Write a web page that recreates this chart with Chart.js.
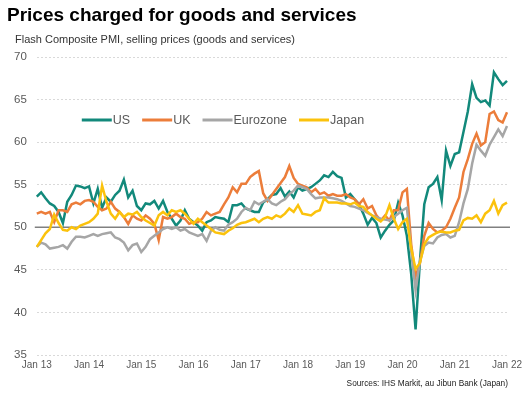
<!DOCTYPE html>
<html><head><meta charset="utf-8">
<script src="https://cdn.jsdelivr.net/npm/chart.js@4/dist/chart.umd.min.js"></script>
<style>html,body{margin:0;padding:0;background:#fff;}#wrap{width:528px;height:399px;position:relative;}</style>
</head><body><div id="wrap"><canvas id="c" width="528" height="399"></canvas></div>
<script>
const titleText = 'Prices charged for goods and services';
const subtitleText = 'Flash Composite PMI, selling prices (goods and services)';
const sourceText = 'Sources: IHS Markit, au Jibun Bank (Japan)';
const monthNames = ['Jan','Feb','Mar','Apr','May','Jun','Jul','Aug','Sep','Oct','Nov','Dec'];
const tickLabels = ['Jan 13','Jan 14','Jan 15','Jan 16','Jan 17','Jan 18','Jan 19','Jan 20','Jan 21','Jan 22'];
const seriesNames = ['US','UK','Eurozone','Japan'];
const seriesColors = ['#12897b','#ec7d3a','#a6a6a6','#fbc20c'];

// monthly categories Jan 13 .. Jan 22
const categories = [];
for (let y = 13; y <= 22; y++) for (let m = 0; m < 12; m++) { if (y === 22 && m > 0) break; categories.push(monthNames[m] + ' ' + y); }

const us = [
 53.6,54.1,53.4,52.8,52.5,51.8,50.5,53.0,53.8,54.9,54.8,54.6,
 54.8,52.8,54.5,52.3,53.5,53.0,53.8,54.3,55.6,53.5,54.3,52.5,
 52.0,52.8,52.7,53.1,52.2,53.1,51.8,51.0,50.2,50.8,52.0,51.0,
 50.6,50.2,49.6,50.6,50.8,51.2,51.1,51.0,50.6,52.6,52.6,52.8,
 52.2,52.0,51.8,51.8,52.9,53.3,53.8,53.9,54.6,53.6,54.2,53.5,
 54.7,54.3,54.5,54.7,55.1,55.5,56.1,55.9,56.5,56.0,55.8,53.5,
 53.9,53.3,52.7,51.6,50.3,51.1,50.5,48.8,49.6,50.3,50.8,52.9,
 51.4,49.0,44.5,38.0,46.0,52.7,54.7,55.1,55.9,53.2,59.0,57.2,
 58.6,58.8,61.2,63.6,66.8,65.2,64.7,64.9,64.3,68.2,67.4,66.7,
 67.2];
const uk = [
 51.6,51.8,51.6,51.8,50.6,52.0,52.0,51.8,52.7,52.9,52.7,53.1,
 53.2,53.0,52.4,52.0,52.2,53.0,52.2,51.8,51.2,50.4,51.4,51.0,
 50.8,51.4,51.0,50.4,48.5,51.2,51.0,51.2,51.6,51.2,51.0,50.4,
 50.6,50.6,51.0,51.8,51.4,51.6,51.8,52.7,53.5,54.7,54.1,55.1,
 55.1,55.9,56.3,56.6,54.0,53.1,53.8,54.5,55.2,55.9,57.2,55.8,
 55.1,54.9,54.7,54.1,54.5,53.9,54.1,53.7,53.9,53.7,53.7,53.9,
 53.5,53.3,52.7,53.3,52.2,52.5,51.4,50.8,51.4,50.8,52.0,52.0,
 54.1,54.5,48.0,44.2,45.8,49.0,50.5,49.8,49.4,49.6,50.0,51.0,
 52.3,53.5,56.5,58.0,59.8,61.0,59.6,60.0,63.3,63.6,62.6,62.3,
 63.5];
const eurozone = [
 47.7,48.2,48.0,47.5,47.6,47.7,47.9,47.5,48.3,48.9,48.9,48.8,
 49.0,49.2,49.0,49.2,49.3,49.4,48.8,48.6,48.2,47.3,47.9,48.1,
 47.1,47.7,48.6,49.0,49.4,49.8,50.0,49.8,50.0,49.6,49.8,49.4,
 49.2,49.0,49.2,48.4,49.6,50.0,49.7,49.6,50.3,50.6,51.0,51.8,
 52.3,52.0,53.0,52.7,53.0,53.3,52.8,52.6,53.0,53.3,53.9,54.3,
 54.9,54.7,54.5,53.9,53.4,53.5,53.5,53.5,53.4,53.3,53.1,52.8,
 52.5,52.4,52.2,52.0,51.7,51.4,51.2,51.0,50.9,50.8,51.2,51.6,
 52.0,52.3,47.2,42.6,46.0,47.8,48.2,48.1,48.8,49.1,49.2,48.8,
 49.0,50.6,52.8,54.5,57.5,59.7,59.0,58.4,59.7,60.6,61.5,60.7,
 61.9];
const japan = [
 47.7,48.5,49.3,49.8,51.5,50.5,49.7,49.6,50.0,49.8,50.2,50.4,
 50.6,51.0,51.6,54.9,53.0,51.6,51.0,51.8,51.2,51.6,51.5,51.8,
 51.2,50.8,50.5,50.2,51.4,51.8,51.4,52.0,51.8,52.0,51.6,51.0,
 50.4,51.0,50.6,50.2,49.8,49.4,49.3,49.2,49.6,49.9,50.3,50.5,
 50.6,50.8,51.0,50.6,51.0,51.2,51.0,51.4,51.2,51.6,52.2,51.8,
 52.6,51.6,51.5,51.4,51.8,52.0,53.4,52.9,52.9,52.9,52.8,52.8,
 52.7,52.9,52.5,52.4,51.8,51.4,51.0,50.7,51.2,52.6,51.0,49.8,
 50.6,51.0,47.5,45.1,45.8,48.0,48.8,49.1,49.4,49.5,49.4,49.4,
 49.6,49.7,50.8,51.1,51.0,51.4,50.6,51.6,52.0,53.1,51.6,52.6,
 52.9];
const seriesValues = [us, uk, eurozone, japan];
const FONT = '"Liberation Sans", Arial, sans-serif';

const decor = {
  id: 'decor',
  beforeDatasetsDraw(chart) {
    const {ctx, chartArea: a, scales: {y}} = chart;
    const py = y.getPixelForValue(50);
    ctx.save();
    ctx.strokeStyle = '#808080'; ctx.lineWidth = 1.5;
    ctx.beginPath(); ctx.moveTo(a.left - 2, py); ctx.lineTo(a.right + 3, py); ctx.stroke();
    ctx.restore();
  },
  afterDraw(chart) {
    const {ctx, chartArea: a} = chart;
    ctx.save();
    ctx.textBaseline = 'alphabetic';
    ctx.fillStyle = '#000'; ctx.font = 'bold 19px ' + FONT; ctx.textAlign = 'left';
    ctx.fillText(titleText, 7, 21);
    ctx.fillStyle = '#333'; ctx.font = '11px ' + FONT;
    ctx.fillText(subtitleText, 15, 43);
    ctx.textAlign = 'right'; ctx.fillStyle = '#222'; ctx.font = '8.3px ' + FONT;
    ctx.fillText(sourceText, 508, 386);
    // legend inside plot
    ctx.textAlign = 'left'; ctx.textBaseline = 'middle'; ctx.font = '12.5px ' + FONT;
    let x = a.left + 45; const ly = a.top + 63;
    chart.data.datasets.forEach(ds => {
      ctx.strokeStyle = ds.borderColor; ctx.lineWidth = 3;
      ctx.beginPath(); ctx.moveTo(x, ly); ctx.lineTo(x + 30, ly); ctx.stroke();
      x += 31;
      ctx.fillStyle = '#595959'; ctx.fillText(ds.label, x, ly + 1);
      x += ctx.measureText(ds.label).width + 12;
    });
    ctx.restore();
  }
};

new Chart(document.getElementById('c'), {
  type: 'line',
  data: {
    labels: categories,
    datasets: seriesNames.map((n, i) => ({
      label: n, data: seriesValues[i], borderColor: seriesColors[i], backgroundColor: seriesColors[i],
      borderWidth: 2.5, pointRadius: 0, tension: 0, fill: false, order: 3 - i
    }))
  },
  options: {
    responsive: false, animation: false,
    layout: {padding: {top: 57, left: 4, right: 21, bottom: 24}},
    plugins: {legend: {display: false}, tooltip: {enabled: false}, title: {display: false}},
    scales: {
      x: {
        type: 'category', offset: false,
        grid: {display: false, drawTicks: false}, border: {display: false},
        ticks: {
          autoSkip: false, maxRotation: 0, minRotation: 0, padding: 4,
          color: '#595959', font: {family: FONT, size: 10},
          callback: function(v) { const l = this.getLabelForValue(v); return tickLabels.includes(l) ? l : null; }
        }
      },
      y: {
        min: 35, max: 70,
        ticks: {stepSize: 5, padding: 10, color: '#595959', font: {family: FONT, size: 11.5}},
        grid: {color: '#d9d9d9', drawTicks: false, lineWidth: 1},
        border: {display: false, dash: [2, 2]}
      }
    }
  },
  plugins: [decor]
});
</script></body></html>
